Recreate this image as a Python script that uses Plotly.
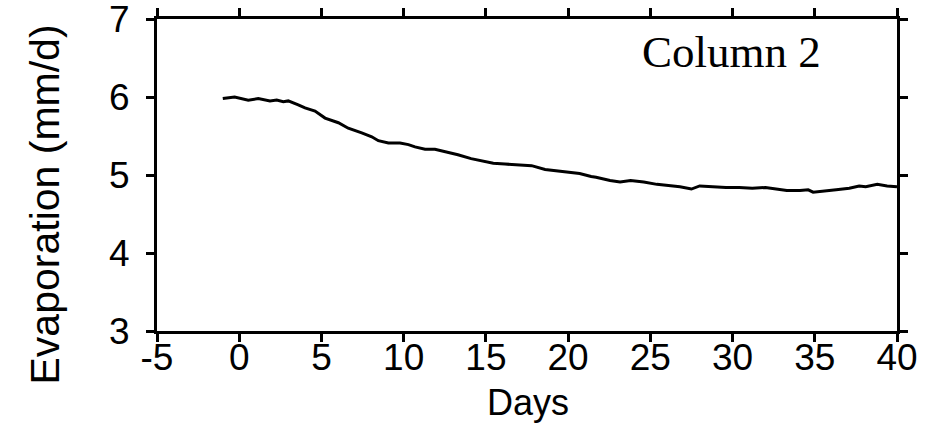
import plotly.graph_objects as go

# Daily evaporation for column 2 (days relative to onset)
days = [-1.0, -0.28, 0.55, 1.16, 1.87, 2.28, 2.68, 2.98, 3.59, 4.0, 4.61, 5.22,
        6.03, 6.63, 7.45, 8.06, 8.46, 9.07, 9.78, 10.29, 10.69, 11.3, 11.9, 12.7,
        13.3, 14.1, 14.7, 15.45, 16.16, 16.97, 17.78, 18.6, 19.4, 20.0, 20.7,
        21.4, 21.7, 22.55, 23.16, 23.8, 24.6, 25.4, 26.2, 26.8, 27.5, 28.0, 28.8,
        29.6, 30.4, 31.2, 32.0, 32.8, 33.3, 34.1, 34.6, 34.9, 35.5, 36.3, 37.1,
        37.7, 38.1, 38.8, 39.4, 40.0]
evap = [5.98, 6.00, 5.96, 5.98, 5.95, 5.96, 5.94, 5.95, 5.90, 5.86, 5.82, 5.73,
        5.67, 5.60, 5.54, 5.49, 5.44, 5.41, 5.41, 5.39, 5.36, 5.33, 5.33, 5.29,
        5.26, 5.21, 5.18, 5.15, 5.14, 5.13, 5.12, 5.07, 5.05, 5.03, 5.02,
        4.98, 4.97, 4.93, 4.91, 4.93, 4.91, 4.88, 4.86, 4.85, 4.82, 4.86, 4.85,
        4.84, 4.84, 4.83, 4.84, 4.82, 4.80, 4.80, 4.81, 4.78, 4.79, 4.81, 4.83,
        4.86, 4.85, 4.88, 4.86, 4.85]

x_ticks = [-5, 0, 5, 10, 15, 20, 25, 30, 35, 40]
x_tick_text = ["-5", "0", "5", "10", "15", "20", "25", "30", "35", "40"]
y_ticks = [3, 4, 5, 6, 7]
y_tick_text = ["3", "4", "5", "6", "7"]

sans = "Liberation Sans, Arial, Helvetica, sans-serif"
serif = "Liberation Serif, Times New Roman, serif"

fig = go.Figure(go.Scatter(
    x=days, y=evap, mode="lines",
    line=dict(color="black", width=3),
    showlegend=False,
))

axis_common = dict(
    showline=True, linecolor="black", linewidth=3,
    mirror="ticks", ticks="outside", ticklen=8, tickwidth=2.5,
    tickcolor="black", showgrid=False, zeroline=False, automargin=False,
    ticklabeloverflow="allow",
    tickfont=dict(family=sans, size=37, color="black"),
)

fig.update_xaxes(range=[-5, 40], tickvals=x_ticks, ticktext=x_tick_text,
                 ticklabelstandoff=-16, **axis_common)
fig.update_yaxes(range=[3, 7], tickvals=y_ticks, ticktext=y_tick_text,
                 ticklabelstandoff=9, **axis_common)

fig.add_annotation(
    text="Evaporation (mm/d)", textangle=-90, showarrow=False,
    xref="paper", yref="paper", x=-0.152, y=0.404,
    xanchor="center", yanchor="middle",
    font=dict(family=sans, size=41, color="black"),
)
fig.add_annotation(
    text="Days", showarrow=False,
    xref="paper", yref="paper", x=0.501, y=-0.228,
    xanchor="center", yanchor="middle",
    font=dict(family=sans, size=36, color="black"),
)
fig.add_annotation(
    text="Column 2", showarrow=False,
    xref="paper", yref="paper", x=0.777, y=0.894,
    xanchor="center", yanchor="middle",
    font=dict(family=serif, size=45, color="black"),
)

fig.update_layout(
    width=938, height=423,
    margin=dict(l=157, r=41, t=19, b=92),
    paper_bgcolor="white", plot_bgcolor="white",
)

fig.write_html("out.html")
